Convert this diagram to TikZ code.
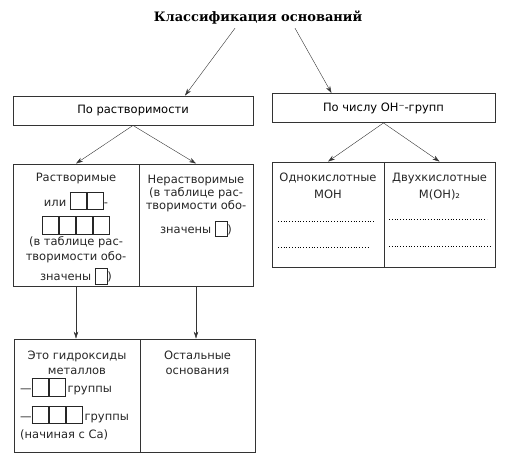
\documentclass[tikz,border=0pt]{standalone}
\usepackage{fontspec}
\setmainfont{DejaVu Sans}
\newfontfamily\headfont{DejaVu Serif}
\usetikzlibrary{arrows,arrows.meta}
\usetikzlibrary{calc,positioning}

\newcommand{\sqcell}{{\setlength{\fboxsep}{0pt}\setlength{\fboxrule}{0.7pt}\fbox{\rule[-3pt]{0pt}{17pt}\hspace{15.6pt}}}}
\newcommand{\mugcell}{{\setlength{\fboxsep}{0pt}\setlength{\fboxrule}{0.7pt}\fbox{\rule[-3pt]{0pt}{15pt}\hspace{11.6pt}}}\kern-0.5pt)}

\begin{document}
\begin{tikzpicture}[x=1pt, y=-1pt, >={Stealth[length=7pt,width=4.5pt]}, font=\fontsize{11.5}{15}\selectfont]
	\tikzstyle{group}=[draw=black!80, line width=0.9pt, rectangle, minimum height=29pt, text centered]
	\tikzstyle{cell}=[draw=black!80, line width=0.9pt, rectangle, inner sep=0pt]
	\tikzstyle{entry}=[align=center, inner sep=0pt, text=black!85]
	\useasboundingbox (0,0) rectangle (527,467);

	\node[font=\headfont\bfseries\fontsize{13}{15}\selectfont] (heading) at (258,18) {Классификация оснований};
	\node[group, minimum width=240pt] (solub) at (133,110.5) {По растворимости};
	\node[group, minimum width=223pt] (ohnum) at (383.5,108) {По числу ОН⁻-групп};

	\node[cell, minimum width=126pt, minimum height=122pt] (sol) at (76,225) {};
	\node[cell, minimum width=114pt, minimum height=122pt] (insol) at (196,225) {};
	\node[cell, minimum width=126pt, minimum height=113pt] (hydr) at (77,395.5) {};
	\node[cell, minimum width=115pt, minimum height=113pt] (rest) at (197.5,395.5) {};
	\node[cell, minimum width=112pt, minimum height=105pt] (mono) at (328,214.5) {};
	\node[cell, minimum width=111pt, minimum height=105pt] (di) at (439.5,214.5) {};

	\node[entry, below=9pt of sol.north] (soltext) {Растворимые\\[7pt] или \sqcell\sqcell-\\[5pt] \sqcell\sqcell\sqcell\sqcell\\ (в таблице рас-\\ творимости обо-\\[4pt] значены \mugcell};
	\node[entry, below=11pt of insol.north] (insoltext) {Нерастворимые\\[-2pt] (в таблице рас-\\[-2pt] творимости обо-\\[8pt] значены \mugcell};
	\node[entry, below=12pt of hydr.north] (hydrtext) {Это гидроксиды\\ металлов};
	\node[entry, align=left, anchor=north west] (grptext) at (20,378) {—\sqcell\sqcell\,группы\\[8pt] —\sqcell\sqcell\sqcell\,группы\\[3pt] (начиная с Са)};
	\node[entry, below=12pt of rest.north] (resttext) {Остальные\\ основания};
	\node[entry, below=11pt of mono.north] (monotext) {Однокислотные\\[2pt] МОН};
	\node[entry, below=11pt of di.north] (ditext) {Двухкислотные\\[2pt] М(ОН)₂};

	\draw[dotted, thick] (278,221) -- (375,221);
	\draw[dotted, thick] (278,247) -- (368,247);
	\draw[dotted, thick] (389,219) -- (487,219);
	\draw[dotted, thick] (389,246) -- (492,246);

	\draw[->, black!80] ([xshift=-23pt]heading.south) -- ([xshift=52pt]solub.north);
	\draw[->, black!80] ([xshift=37pt]heading.south) -- ([xshift=-52pt]ohnum.north);
	\draw[->, black!80] (solub.south) -- (sol.north);
	\draw[->, black!80] (solub.south) -- (insol.north);
	\draw[->, black!80] (ohnum.south) -- (mono.north);
	\draw[->, black!80] (ohnum.south) -- (di.north);
	\draw[->, black!80] (sol.south) -- (sol.south |- hydr.north);
	\draw[->, black!80] (insol.south) -- (insol.south |- rest.north);
\end{tikzpicture}
\end{document}
